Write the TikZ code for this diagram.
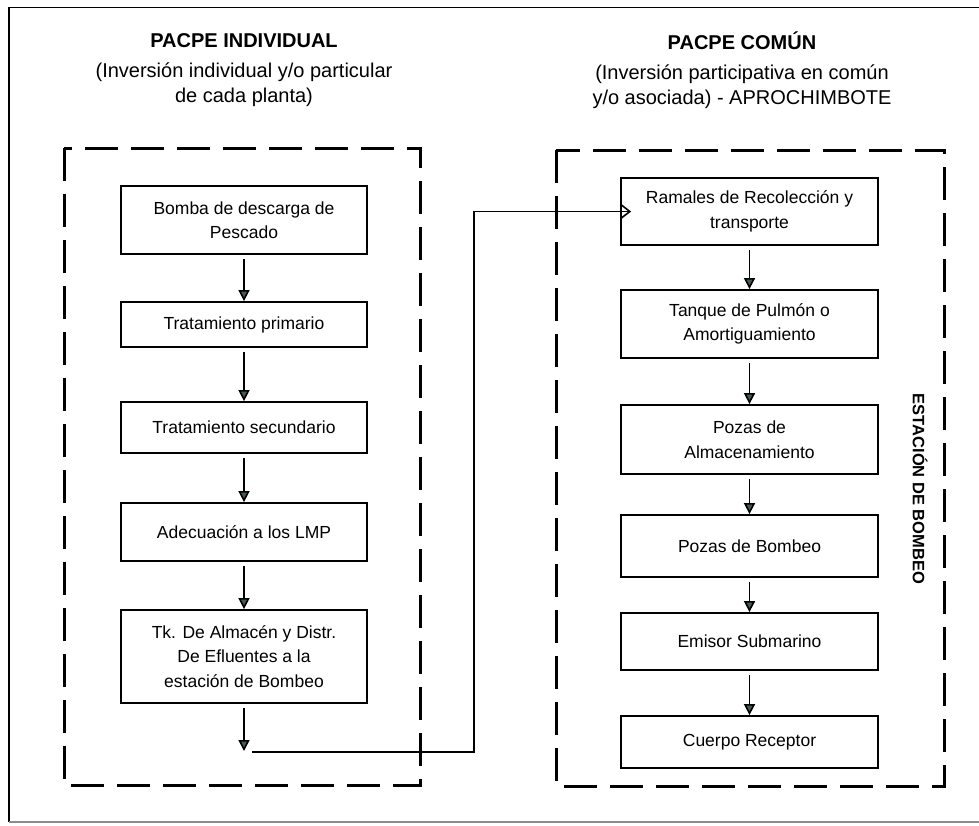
\documentclass[tikz,border=0pt]{standalone}
\usepackage{fontspec}
\setmainfont{Liberation Sans}
\usetikzlibrary{arrows.meta}
\definecolor{tipgray}{RGB}{70,90,85}
\tikzset{
  box/.style={draw, line width=1.8pt, align=center, inner sep=2pt,
    font=\fontsize{17.5}{24.5}\selectfont},
  lbox/.style={box, minimum width=246pt},
  rbox/.style={box, minimum width=257pt},
  flow/.style={line width=1.6pt, shorten <=4pt,
    -{Triangle[length=11pt,width=11pt,fill=tipgray]}},
  link/.style={line width=1.6pt, -{Straight Barb[length=9pt,width=14pt,line width=1.6pt]}},
  zone/.style={line width=3pt, dash pattern=on 33pt off 13pt},
  title/.style={align=center, font=\fontsize{20}{25}\selectfont}
}
\begin{document}
\begin{tikzpicture}[x=1pt,y=-1pt]
      \useasboundingbox (0,0) rectangle (979,825);
      \draw[line width=1.8pt] (979,7.5) -- (9,7.5) -- (9,822);
      \draw[line width=1.2pt, black!45] (9,822) -- (979,822);
      \draw[zone] (64,148) rectangle (420,785);
      \draw[zone] (556,150) rectangle (944,786);
      \draw
        (244,70) node[title] (tleft){\textbf{PACPE INDIVIDUAL}\\[5pt](Inversión individual y/o particular\\de cada planta)}
        (742,70) node[title] (tright){\textbf{PACPE COMÚN}\\[5pt](Inversión participativa en común\\y/o asociada) - APROCHIMBOTE}
        (920,489) node[rotate=-90, font=\fontsize{16.5}{20}\selectfont\bfseries] (estacion){ESTACIÓN DE BOMBEO};
      \draw
        (244,220) node[lbox, minimum height=68pt] (bomba){Bomba de descarga de\\Pescado}
        (244,324.5) node[lbox, minimum height=45pt] (prim){Tratamiento primario}
        (244,427.5) node[lbox, minimum height=51pt] (sec){Tratamiento secundario}
        (244,532) node[lbox, minimum height=58pt] (adec){Adecuación a los LMP}
        (244,656.5) node[lbox, minimum height=93pt] (tk){Tk. De Almacén y Distr.\\De Efluentes a la\\estación de Bombeo};
      \draw
        (749.5,211.5) node[rbox, minimum height=67pt] (ramales){Ramales de Recolección y\\transporte}
        (749.5,324) node[rbox, minimum height=68pt] (tanque){Tanque de Pulmón o\\Amortiguamiento}
        (749.5,439.5) node[rbox, minimum height=69pt] (almac){Pozas de\\Almacenamiento}
        (749.5,546) node[rbox, minimum height=62pt] (bombeo){Pozas de Bombeo}
        (749.5,641.5) node[rbox, minimum height=57pt] (emisor){Emisor Submarino}
        (749.5,742) node[rbox, minimum height=52pt] (cuerpo){Cuerpo Receptor};
      \coordinate (tkout) at (244,751);
      \coordinate (linkin) at (252,752);
      \coordinate (elbow) at (474,752);
      \begin{scope}[flow]
        \draw (bomba) to (prim);
        \draw (prim) to (sec);
        \draw (sec) to (adec);
        \draw (adec) to (tk);
        \draw (tk) to (tkout);
        \draw (ramales) to (tanque);
        \draw (tanque) to (almac);
        \draw (almac) to (bombeo);
        \draw (bombeo) to (emisor);
        \draw (emisor) to (cuerpo);
      \end{scope}
      \draw[link] (linkin) -- (elbow) |- ([xshift=11pt]ramales.west);
    \end{tikzpicture}
\end{document}
